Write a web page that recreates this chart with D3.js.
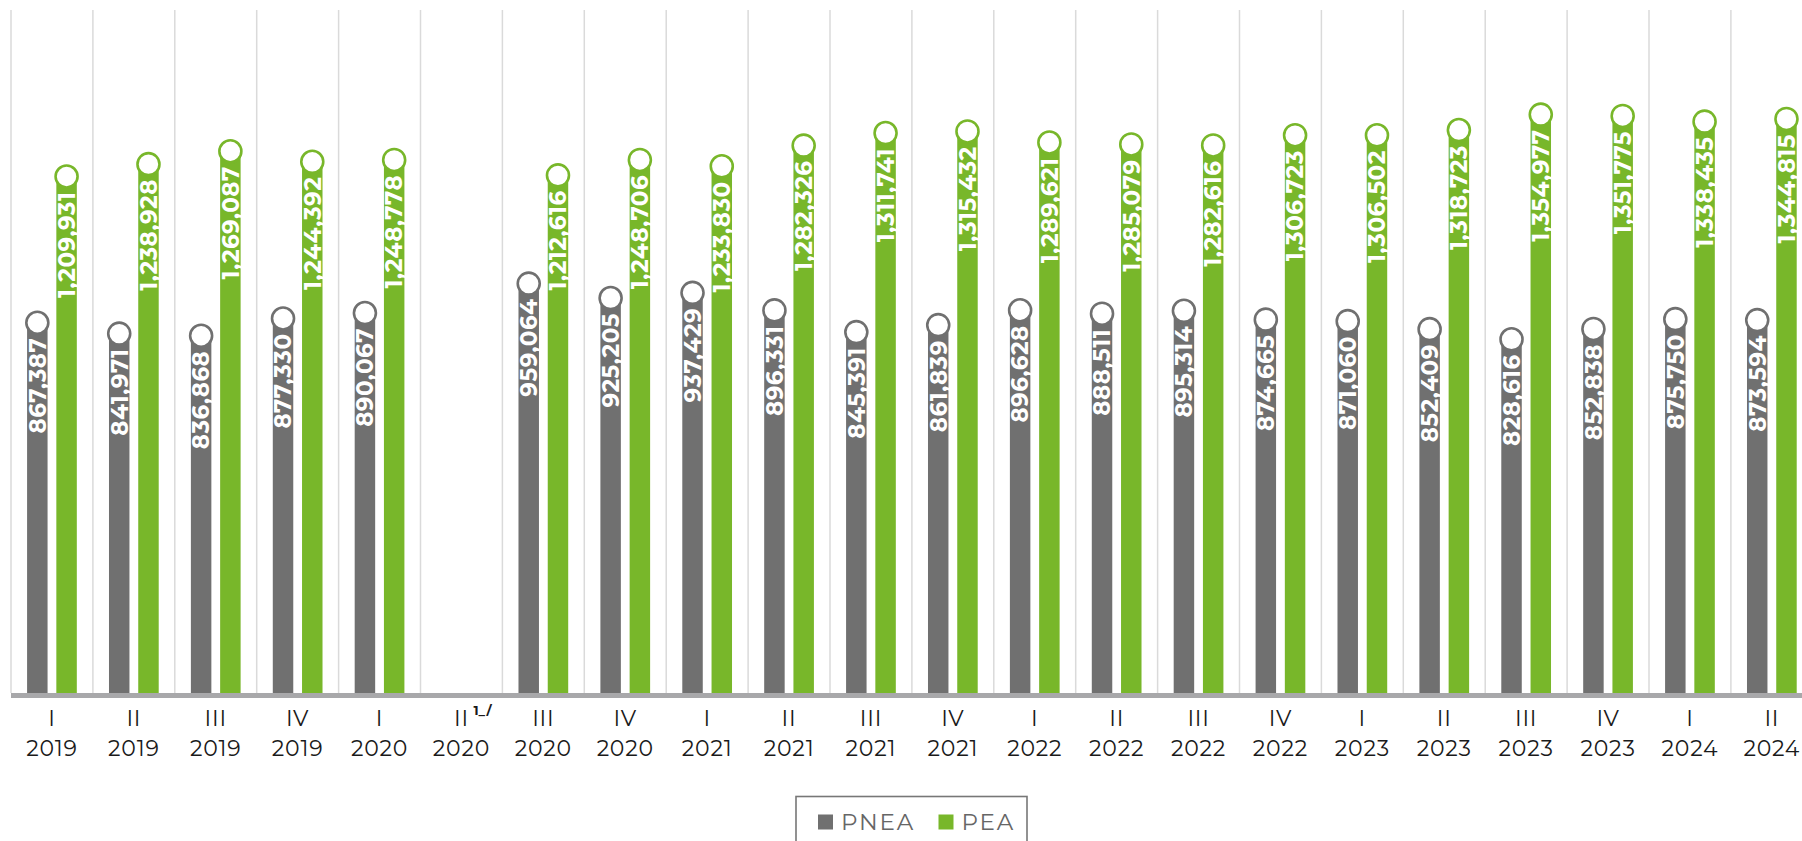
<!DOCTYPE html>
<html>
<head>
<meta charset="utf-8">
<script src="https://cdn.jsdelivr.net/npm/d3@7"></script>
<style>
  html, body { margin: 0; padding: 0; background: #fff; }
  svg { display: block; }
</style>
</head>
<body>
<svg id="chart" width="1802" height="841"></svg>
<script>
const quarters = ["I","II","III","IV","I","II","III","IV","I","II","III","IV","I","II","III","IV","I","II","III","IV","I","II"];
const years = ["2019","2019","2019","2019","2020","2020","2020","2020","2021","2021","2021","2021","2022","2022","2022","2022","2023","2023","2023","2023","2024","2024"];
const footnotes = ["","","","","","1_/","","","","","","","","","","","","","","","",""];
const seriesNames = ["PNEA","PEA"];
const pnea = [867387, 841971, 836868, 877330, 890067, null, 959064, 925205, 937429, 896331, 845391, 861839, 896628, 888511, 895314, 874665, 871060, 852409, 828616, 852838, 875750, 873594];
const pea = [1209931, 1238928, 1269087, 1244392, 1248778, null, 1212616, 1248706, 1233830, 1282326, 1311741, 1315432, 1289621, 1285079, 1282616, 1306723, 1306502, 1318723, 1354977, 1351775, 1338435, 1344815];
const yMax = 1600000;

(function () {
const colors = { PNEA: "#707070", PEA: "#78b72a" };
const fontFam = "Montserrat, Inter, 'Open Sans', sans-serif";

const svg = d3.select("#chart");
const leftX = 11, stepW = 81.9, topY = 10, baseY = 693;
const cats = quarters.map((q, i) => i);
const x0 = d3.scaleBand().domain(cats).range([leftX, leftX + stepW * cats.length]).paddingInner(0).paddingOuter(0);
const x1 = d3.scaleBand().domain(seriesNames).range([0, x0.bandwidth()]).paddingInner(0.3).paddingOuter(0.55);
const y = d3.scaleLinear().domain([0, yMax]).range([baseY, topY]);

// gridlines at category boundaries
const bounds = cats.map(c => x0(c)).concat([x0(cats[cats.length - 1]) + x0.bandwidth()]);
svg.append("g").selectAll("line").data(bounds).join("line")
  .attr("x1", d => d).attr("x2", d => d)
  .attr("y1", topY).attr("y2", baseY)
  .attr("stroke", "#dadada").attr("stroke-width", 1.5);

const rows = [];
cats.forEach(i => {
  [["PNEA", pnea[i]], ["PEA", pea[i]]].forEach(([s, v]) => {
    if (v != null) rows.push({ i, s, v });
  });
});

const g = svg.append("g");
g.selectAll("rect.bar").data(rows).join("rect")
  .attr("class", "bar")
  .attr("x", d => x0(d.i) + x1(d.s))
  .attr("width", x1.bandwidth())
  .attr("y", d => y(d.v))
  .attr("height", d => baseY - y(d.v))
  .attr("fill", d => colors[d.s]);

g.selectAll("circle").data(rows).join("circle")
  .attr("cx", d => x0(d.i) + x1(d.s) + x1.bandwidth() / 2)
  .attr("cy", d => y(d.v))
  .attr("r", 11)
  .attr("fill", "#fff")
  .attr("stroke", d => colors[d.s])
  .attr("stroke-width", 2.6);

const fmt = d3.format(",");
g.selectAll("text.val").data(rows).join("text")
  .attr("class", "val")
  .attr("transform", d => `translate(${x0(d.i) + x1(d.s) + x1.bandwidth() / 2},${y(d.v) + 15}) rotate(-90)`)
  .attr("text-anchor", "end")
  .attr("dy", "0.36em")
  .attr("fill", "#fff")
  .attr("font-family", fontFam)
  .attr("font-weight", 700)
  .attr("font-size", 23)
  .attr("letter-spacing", 0.5)
  .text(d => fmt(d.v));

// axis line
svg.append("rect")
  .attr("x", leftX).attr("y", baseY)
  .attr("width", stepW * cats.length).attr("height", 5)
  .attr("fill", "#a8a8aa");

// x labels
const xl = svg.append("g").attr("font-family", fontFam).attr("fill", "#1a1a1a").attr("text-anchor", "middle");
xl.selectAll("text.q").data(cats).join("text")
  .attr("class", "q")
  .attr("x", d => x0(d) + x0.bandwidth() / 2)
  .attr("y", 726)
  .attr("font-size", 22)
  .attr("letter-spacing", 0.8)
  .text(d => quarters[d]);
xl.selectAll("text.yr").data(cats).join("text")
  .attr("class", "yr")
  .attr("x", d => x0(d) + x0.bandwidth() / 2)
  .attr("y", 755.5)
  .attr("font-size", 22)
  .attr("letter-spacing", 0.8)
  .text(d => years[d]);
svg.append("g").selectAll("text").data(cats.filter(d => footnotes[d])).join("text")
  .attr("x", d => x0(d) + x0.bandwidth() / 2 + 12)
  .attr("y", 715)
  .attr("font-family", fontFam)
  .attr("font-weight", 700)
  .attr("font-size", 13)
  .attr("fill", "#1a1a1a")
  .text(d => footnotes[d]);

// legend
const lg = svg.append("g");
lg.append("rect").attr("x", 796).attr("y", 796.5).attr("width", 231).attr("height", 70)
  .attr("fill", "none").attr("stroke", "#777").attr("stroke-width", 1.6);
const legX = [818, 938.5];
seriesNames.forEach((s, k) => {
  lg.append("rect").attr("x", legX[k]).attr("y", 814.5).attr("width", 15).attr("height", 15).attr("fill", colors[s]);
  lg.append("text").attr("x", legX[k] + 23).attr("y", 829.5)
    .attr("font-family", fontFam).attr("font-size", 23).attr("letter-spacing", 1.8).attr("fill", "#666")
    .text(s);
});
})();
</script>
</body>
</html>
